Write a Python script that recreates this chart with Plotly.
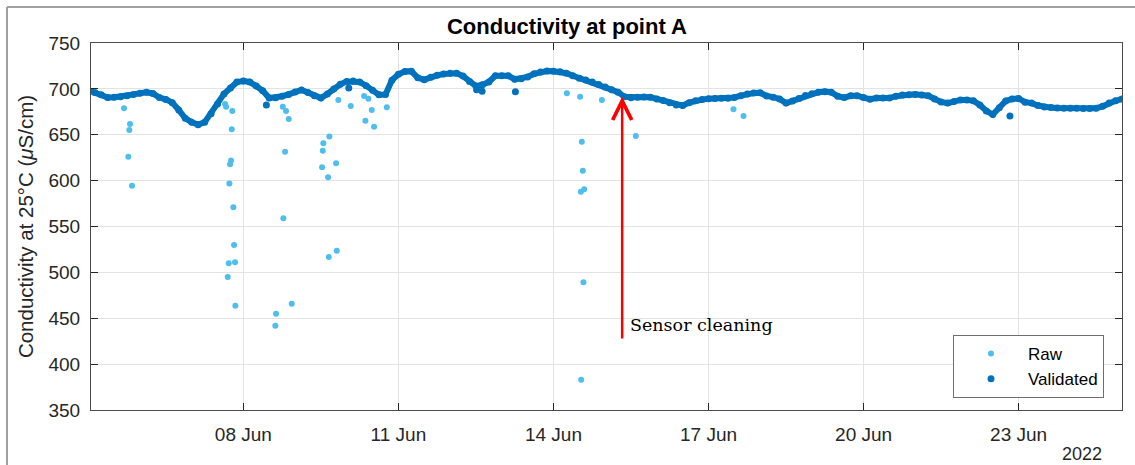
import pandas as pd
import plotly.graph_objects as go

# ---------------- data ----------------
# Validated series: readings every 3 hours starting 2022-06-05 00:00
validated_start = "2022-06-05 00:00"
validated_step = "3h"
validated_values = [
    698.5, 696.0, 693.5, 690.5, 690.8, 691.5, 692.5, 694.0, 695.3, 696.2,
    695.0, 690.5, 688.5, 685.0, 677.0, 668.0, 663.7, 661.0, 663.5, 673.0,
    683.5, 694.5, 701.0, 707.5, 708.6, 707.5, 703.0, 698.0, 690.0, 690.2,
    692.0, 694.0, 696.5, 698.8, 696.0, 692.5, 690.0, 694.5, 700.0, 705.0,
    708.0, 708.5, 707.5, 703.5, 698.5, 693.5, 694.0, 709.5, 716.0, 719.0,
    719.3, 712.0, 710.0, 712.8, 714.8, 716.2, 717.0, 717.0, 714.0, 708.0,
    703.0, 704.5, 707.5, 714.3, 714.4, 714.3, 710.5, 711.0, 713.0, 716.5,
    718.5, 719.5, 719.3, 718.8, 717.0, 714.3, 711.6, 709.6, 707.4, 704.8,
    702.0, 699.0, 696.4, 691.3, 690.4, 690.8, 691.2, 691.0, 689.0, 687.3,
    685.0, 682.3, 681.8, 685.0, 687.0, 688.3, 689.2, 689.5, 689.7, 689.7,
    690.7, 692.6, 694.4, 695.5, 695.7, 692.3, 691.0, 689.0, 684.5, 686.8,
    689.6, 692.7, 694.8, 696.3, 697.0, 696.3, 692.0, 690.5, 692.4, 692.6,
    690.5, 688.7, 690.0, 690.0, 690.0, 692.0, 693.3, 693.7, 694.0, 693.3,
    692.6, 689.0, 685.8, 684.5, 686.3, 688.0, 688.0, 687.0, 682.5, 676.0,
    672.0, 679.5, 686.8, 689.0, 689.5, 685.5, 684.5, 681.8, 680.2, 679.6,
    679.1, 679.0, 679.0, 678.8, 678.6, 678.7, 679.0, 681.0, 684.5, 687.0,
    689.0,
]
# Isolated validated readings off the main band
validated_extra_times = [
    "2022-06-08 10:41", "2022-06-10 00:57", "2022-06-12 12:19",
    "2022-06-12 14:52", "2022-06-13 06:20", "2022-06-22 19:58",
]
validated_extra_values = [682.4, 701.0, 699.0, 697.5, 697.0, 670.4]

# Raw readings that differ from the validated series (outliers)
raw_times = [
    "2022-06-05 16:35", "2022-06-05 19:22", "2022-06-05 19:03", "2022-06-05 18:35",
    "2022-06-05 20:18", "2022-06-07 15:30", "2022-06-07 15:58", "2022-06-07 18:53",
    "2022-06-07 18:36", "2022-06-07 18:17", "2022-06-07 17:49", "2022-06-07 17:30",
    "2022-06-07 19:21", "2022-06-07 19:41", "2022-06-07 17:13", "2022-06-07 20:08",
    "2022-06-07 16:45", "2022-06-07 20:17", "2022-06-08 15:11", "2022-06-08 14:51",
    "2022-06-08 22:28", "2022-06-08 18:17", "2022-06-08 19:49", "2022-06-08 21:04",
    "2022-06-08 19:22", "2022-06-08 18:34", "2022-06-09 12:52", "2022-06-09 13:09",
    "2022-06-09 15:56", "2022-06-09 12:33", "2022-06-09 15:20", "2022-06-09 19:03",
    "2022-06-09 20:07", "2022-06-10 01:52", "2022-06-10 08:03", "2022-06-10 10:03",
    "2022-06-10 11:38", "2022-06-10 08:40", "2022-06-10 12:42", "2022-06-10 18:36",
    "2022-06-09 15:40", "2022-06-09 19:22", "2022-06-14 06:13", "2022-06-14 12:23",
    "2022-06-14 22:28", "2022-06-14 13:10", "2022-06-14 13:38", "2022-06-14 12:43",
    "2022-06-14 14:15", "2022-06-15 14:15", "2022-06-17 11:35", "2022-06-17 16:15",
    "2022-06-14 13:55", "2022-06-14 12:52",
]
raw_values = [
    678.8, 661.7, 655.2, 626.1, 594.5, 683.5, 680.6, 675.9,
    656.0, 621.8, 617.8, 597.0, 570.9, 529.8, 509.9, 511.0,
    494.9, 463.7, 455.0, 441.9, 465.8, 680.6, 675.9, 667.2,
    631.5, 559.0, 632.6, 640.7, 648.0, 614.5, 603.6, 618.9,
    687.9, 681.3, 692.2, 689.3, 677.0, 665.3, 658.8, 679.9,
    516.8, 523.6, 695.2, 691.5, 687.9, 642.4, 610.8, 587.9,
    590.5, 648.6, 677.7, 670.4, 489.2, 383.1,
]

x_tick_dates = ["2022-06-08", "2022-06-11", "2022-06-14", "2022-06-17", "2022-06-20", "2022-06-23"]
x_tick_labels = ["08 Jun", "11 Jun", "14 Jun", "17 Jun", "20 Jun", "23 Jun"]
y_ticks = [350, 400, 450, 500, 550, 600, 650, 700, 750]
x_range = ["2022-06-05 01:15", "2022-06-25 00:00"]
y_range = [350, 750]

cleaning_time = "2022-06-15 07:54"
cleaning_value = 691.5
cleaning_tail_value = 426.3
cleaning_label = "Sensor cleaning"
year_label = "2022"

# ---------------- figure ----------------
validated_times = pd.date_range(validated_start, periods=len(validated_values), freq=validated_step)

RAW_COLOR = "#4DBEEE"
VAL_COLOR = "#0072BD"
FONT = "Liberation Sans, Arial, Helvetica, sans-serif"
TXT = "#262626"

fig = go.Figure()
fig.add_trace(go.Scatter(
    x=pd.to_datetime(raw_times), y=raw_values, mode="markers", name="Raw",
    marker=dict(color=RAW_COLOR, size=6),
))
fig.add_trace(go.Scatter(
    x=validated_times, y=validated_values, mode="lines", showlegend=False,
    line=dict(color=VAL_COLOR, width=6), hoverinfo="skip",
))
fig.add_trace(go.Scatter(
    x=list(validated_times) + list(pd.to_datetime(validated_extra_times)),
    y=validated_values + validated_extra_values,
    mode="markers", name="Validated",
    marker=dict(color=VAL_COLOR, size=7),
))

L, R, T, B = 91, 13, 43, 55
W, H = 1135, 465
pw, ph = W - L - R, H - T - B

def px_x(px):
    return (px - L) / pw

def px_y(py):
    return (H - B - py) / ph

fig.update_layout(
    width=W, height=H,
    margin=dict(l=L, r=R, t=T, b=B, autoexpand=False),
    paper_bgcolor="white", plot_bgcolor="white",
    font=dict(family=FONT, color=TXT),
    title=dict(text="<b>Conductivity at point A</b>", x=px_x(606), xanchor="center",
               y=1 - 26 / H, yanchor="middle", yref="container",
               font=dict(size=22, color="#000000", family=FONT)),
    showlegend=True,
    legend=dict(x=px_x(1104), y=px_y(398), xanchor="right", yanchor="bottom",
                bgcolor="white", bordercolor="#6e6e6e", borderwidth=1,
                font=dict(size=17, color="#000000", family=FONT), itemwidth=64,
                tracegroupgap=0),
)

fig.update_xaxes(
    type="date", range=x_range,
    tickvals=x_tick_dates, ticktext=x_tick_labels,
    tickfont=dict(size=19, color=TXT), ticks="inside", ticklen=7, tickcolor="#262626",
    showline=True, linecolor="#4d4d4d", linewidth=1, mirror="ticks",
    showgrid=True, gridcolor="#e3e3e3", gridwidth=1, zeroline=False,
    ticklabelstandoff=7,
)
fig.update_yaxes(
    range=y_range, tickvals=y_ticks,
    tickfont=dict(size=19, color=TXT), ticks="inside", ticklen=7, tickcolor="#262626",
    showline=True, linecolor="#4d4d4d", linewidth=1, mirror="ticks",
    showgrid=True, gridcolor="#e3e3e3", gridwidth=1, zeroline=False,
    title=dict(text="Conductivity at 25°C (<i>μ</i>S/cm)", font=dict(size=20.5, color=TXT), standoff=9),
    ticklabelstandoff=6,
)

# Sensor cleaning arrow
fig.add_annotation(
    x=cleaning_time, y=cleaning_value, ax=cleaning_time, ay=cleaning_tail_value,
    xref="x", yref="y", axref="x", ayref="y",
    showarrow=True, arrowhead=5, arrowsize=1.5, arrowwidth=2.5, arrowcolor="#FF0000",
    text="",
)
fig.add_annotation(
    x=px_x(628), y=px_y(325), xref="paper", yref="paper",
    text=cleaning_label, showarrow=False, xanchor="left", yanchor="middle",
    font=dict(family="DejaVu Serif, Liberation Serif, serif", size=17.5, color="#000000"),
)
fig.add_annotation(
    x=px_x(1104), y=px_y(454), xref="paper", yref="paper",
    text=year_label, showarrow=False, xanchor="right", yanchor="middle",
    font=dict(size=18, color=TXT),
)

# outer figure frame (left and top edges)
fig.add_shape(type="line", xref="paper", yref="paper",
              x0=px_x(7), x1=px_x(7), y0=px_y(7), y1=px_y(470),
              line=dict(color="#a0a0a0", width=2))
fig.add_shape(type="line", xref="paper", yref="paper",
              x0=px_x(7), x1=px_x(1140), y0=px_y(7), y1=px_y(7),
              line=dict(color="#a0a0a0", width=2))

fig.write_html("out.html", config={"displayModeBar": False},
               post_script="document.body.style.margin='0';document.body.style.overflow='hidden';")
